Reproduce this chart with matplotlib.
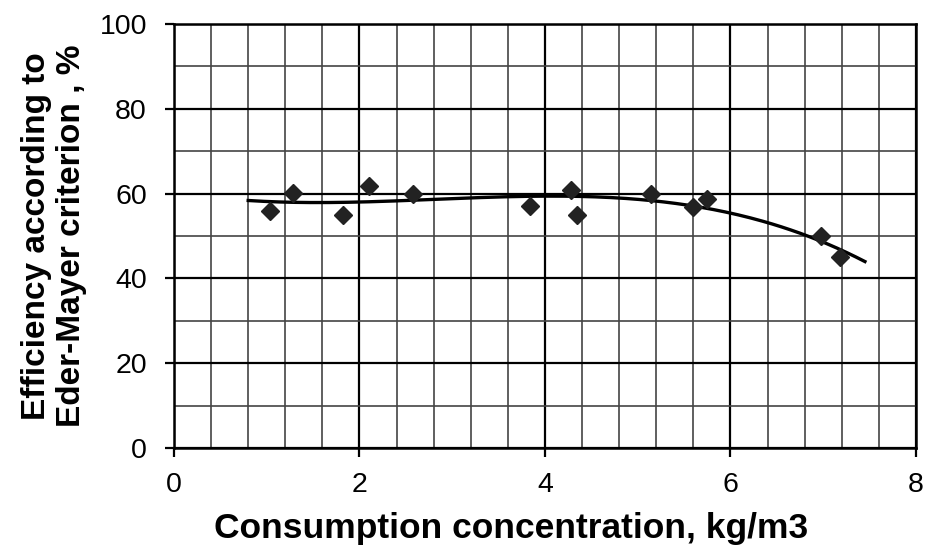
import numpy as np
import matplotlib.pyplot as plt
from matplotlib.ticker import MultipleLocator

# measured points
conc = [1.03, 1.28, 1.82, 2.10, 2.58, 3.84, 4.28, 4.35, 5.14, 5.60, 5.75, 6.98, 7.18]
eff = [56.0, 60.1, 55.0, 61.8, 60.0, 57.0, 60.8, 55.0, 60.0, 56.8, 58.7, 50.0, 45.0]

# trend line range
trend_x = [0.8, 7.45]

plt.rcParams['font.family'] = ['Liberation Sans', 'DejaVu Sans']

fig = plt.figure(figsize=(9.28, 5.47), dpi=100)
graph = fig.add_axes([0.1875, 0.181, 0.7995, 0.775])

# polynomial trend line (like a spreadsheet trendline)
coef = np.polyfit(conc, eff, 3)
xt = np.linspace(trend_x[0], trend_x[1], 200)
graph.plot(xt, np.polyval(coef, xt), color='black', lw=2.4, zorder=3)

graph.plot(conc, eff, linestyle='none', marker='D', markersize=9,
           color='#222222', zorder=4)

graph.set_xlim(0, 8)
graph.set_ylim(0, 100)
graph.xaxis.set_major_locator(MultipleLocator(2))
graph.xaxis.set_minor_locator(MultipleLocator(0.4))
graph.yaxis.set_major_locator(MultipleLocator(20))
graph.yaxis.set_minor_locator(MultipleLocator(10))

graph.grid(which='major', color='black', lw=1.6)
graph.grid(which='minor', color='#444444', lw=1.2)
graph.set_axisbelow(True)

for s in graph.spines.values():
    s.set_linewidth(1.8)
graph.tick_params(which='major', direction='out', length=6.5, width=1.6,
                  labelsize=20.5)
graph.tick_params(axis='y', pad=13)
graph.tick_params(axis='x', pad=11)
graph.tick_params(which='minor', length=0)

graph.set_xlabel('Consumption concentration, kg/m3', fontsize=25.5,
                 fontweight='bold', labelpad=10)
graph.xaxis.label.set_x(0.454)  # title sits a bit left of centre
graph.set_ylabel('Efficiency according to\nEder-Mayer criterion , %',
                 fontsize=24, fontweight='bold', labelpad=9, linespacing=1.15)

fig.savefig('out.png', dpi=100)
